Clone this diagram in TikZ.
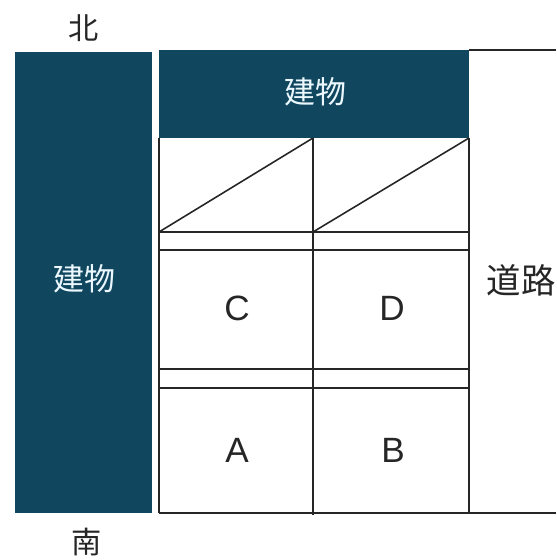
\documentclass[tikz,border=0pt]{standalone}
\usepackage{fontspec}
\setmainfont{Liberation Sans}
\newfontfamily\cjk{Noto Sans CJK JP}
\definecolor{buildingblue}{HTML}{11465F}
\tikzset{
	lotline/.style={line width=0.45pt,draw=black!85},
	building/.style={fill=buildingblue,draw=none},
	buildinglabel/.style={text=white!92!cyan,font=\cjk\fontsize{8.8}{10}\selectfont},
	compass/.style={text=black!85,font=\cjk\fontsize{8.6}{10}\selectfont},
	roadlabel/.style={text=black!85,font=\cjk\fontsize{9.8}{10}\selectfont},
	lotlabel/.style={text=black!85,font=\fontsize{10}{12}\selectfont}
}
\begin{document}
\begin{tikzpicture}
	\useasboundingbox (0,0) rectangle (5.56,5.60);
	\coordinate (NW) at (1.59,5.10);
	\coordinate (NM) at (3.13,4.22);
	\coordinate (NE) at (4.69,5.10);
	\coordinate (BW) at (1.59,4.22);
	\coordinate (BE) at (4.69,4.22);
	\coordinate (SW) at (1.59,0.47);
	\coordinate (SM) at (3.13,0.45);
	\coordinate (SE) at (4.69,0.47);
	\coordinate (RN) at (5.56,5.10);
	\coordinate (RS) at (5.56,0.47);
	\coordinate (P1W) at (1.59,3.28);
	\coordinate (P1M) at (3.13,3.28);
	\coordinate (P1E) at (4.69,3.28);
	\coordinate (P2W) at (1.59,3.10);
	\coordinate (P2E) at (4.69,3.10);
	\coordinate (P3W) at (1.59,1.91);
	\coordinate (P3E) at (4.69,1.91);
	\coordinate (P4W) at (1.59,1.72);
	\coordinate (P4E) at (4.69,1.72);
	\fill[building] (0.15,0.47) rectangle (1.52,5.08);
	\fill[building] (NW) rectangle (BE);
	\draw[lotline] (NE) -- (RN);
	\draw[lotline] (SW) -- (RS);
	\draw[lotline] (BW) -- (SW);
	\draw[lotline] (NM) -- (SM);
	\draw[lotline] (BE) -- (SE);
	\draw[lotline] (P1W) -- (P1E);
	\draw[lotline] (P2W) -- (P2E);
	\draw[lotline] (P3W) -- (P3E);
	\draw[lotline] (P4W) -- (P4E);
	\draw[lotline] (P1W) -- (NM);
	\draw[lotline] (P1M) -- (BE);
	\node[compass] (north) at (0.84,5.32) {北};
	\node[compass] (south) at (0.87,0.18) {南};
	\node[buildinglabel] (west) at (0.84,2.81) {建物};
	\node[buildinglabel] (top) at (3.15,4.68) {建物};
	\node[roadlabel] (road) at (5.21,2.80) {道路};
	\node[lotlabel] (C) at (2.37,2.52) {C};
	\node[lotlabel] (D) at (3.92,2.52) {D};
	\node[lotlabel] (A) at (2.37,1.10) {A};
	\node[lotlabel] (B) at (3.93,1.10) {B};
\end{tikzpicture}
\end{document}
